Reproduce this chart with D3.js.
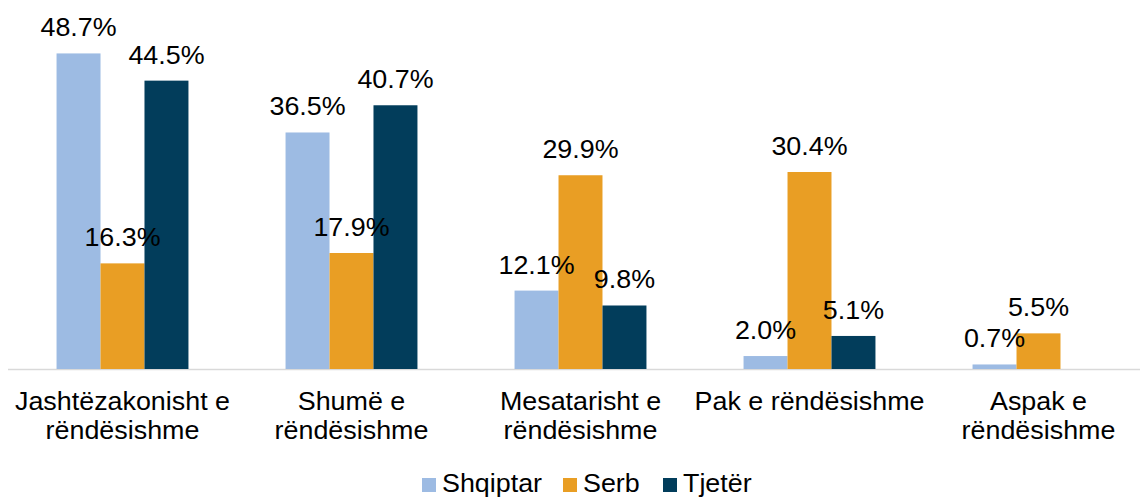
<!DOCTYPE html>
<html>
<head>
<meta charset="utf-8">
<script src="https://cdn.jsdelivr.net/npm/d3@7"></script>
<style>
  body { margin: 0; background: #fff; }
  text { font-family: "Liberation Sans", Arial, sans-serif; fill: #000; }
</style>
</head>
<body>
<div id="chart"></div>
<script>
const categories = [
  "Jashtëzakonisht e\nrëndësishme",
  "Shumë e\nrëndësishme",
  "Mesatarisht e\nrëndësishme",
  "Pak e rëndësishme",
  "Aspak e\nrëndësishme"
];
const seriesNames = ["Shqiptar", "Serb", "Tjetër"];
const shqiptar = [48.7, 36.5, 12.1, 2.0, 0.7];
const serb = [16.3, 17.9, 29.9, 30.4, 5.5];
const tjeter = [44.5, 40.7, 9.8, 5.1, null];
const colors = ["#9dbbe3", "#e99e24", "#023d5b"];

const W = 1140, H = 497;
const stretch = 1.075; // text in the original is slightly wide
const svg = d3.select("#chart").append("svg").attr("width", W).attr("height", H);

const seriesValues = [shqiptar, serb, tjeter];
const data = categories.map((c, i) => ({
  cat: c,
  vals: seriesNames.map((s, j) => ({ name: s, v: seriesValues[j][i] }))
}));

const x = d3.scaleBand().domain(categories).range([8, 1153]).paddingInner(0.424).paddingOuter(0.212);
const xs = d3.scaleBand().domain(seriesNames).range([0, x.bandwidth()]);
const y = d3.scaleLinear().domain([0, 50]).range([369, 45]);

// baseline
svg.append("line")
  .attr("x1", 8).attr("x2", W)
  .attr("y1", y(0) + 0.5).attr("y2", y(0) + 0.5)
  .attr("stroke", "#d9d9d9").attr("stroke-width", 1.5);

const groups = svg.selectAll(".grp").data(data).enter().append("g")
  .attr("transform", d => `translate(${x(d.cat)},0)`);

groups.selectAll("rect").data(d => d.vals.filter(v => v.v != null)).enter().append("rect")
  .attr("x", d => xs(d.name))
  .attr("width", xs.bandwidth())
  .attr("y", d => y(d.v))
  .attr("height", d => y(0) - y(d.v))
  .attr("fill", d => colors[seriesNames.indexOf(d.name)]);

groups.selectAll(".lbl").data(d => d.vals.filter(v => v.v != null)).enter().append("text")
  .attr("class", "lbl")
  .attr("text-anchor", "middle")
  .attr("transform", d => `translate(${xs(d.name) + xs.bandwidth() / 2},${y(d.v) - 17}) scale(${stretch},1)`)
  .style("font-size", "25px")
  .text(d => d.v.toFixed(1) + "%");

// category axis labels
const axis = svg.append("g").attr("transform", `translate(0,${y(0)})`)
  .call(d3.axisBottom(x).tickSize(0).tickFormat(""));
axis.select(".domain").remove();
axis.selectAll(".tick").append("text")
  .attr("text-anchor", "middle")
  .attr("transform", `scale(${stretch},1)`)
  .style("font-size", "25px")
  .each(function(d) {
    const lines = d.split("\n");
    d3.select(this).selectAll("tspan").data(lines).enter().append("tspan")
      .attr("x", 0)
      .attr("y", (l, i) => 41 + i * 29)
      .text(l => l);
  });

// legend
const legendX = [422, 563, 663];
const legend = svg.append("g");
seriesNames.forEach((s, i) => {
  legend.append("rect").attr("x", legendX[i]).attr("y", 478)
    .attr("width", 14).attr("height", 14).attr("fill", colors[i]);
  legend.append("text")
    .attr("transform", `translate(${legendX[i] + 20},492) scale(${stretch},1)`)
    .style("font-size", "25px").text(s);
});
</script>
</body>
</html>
